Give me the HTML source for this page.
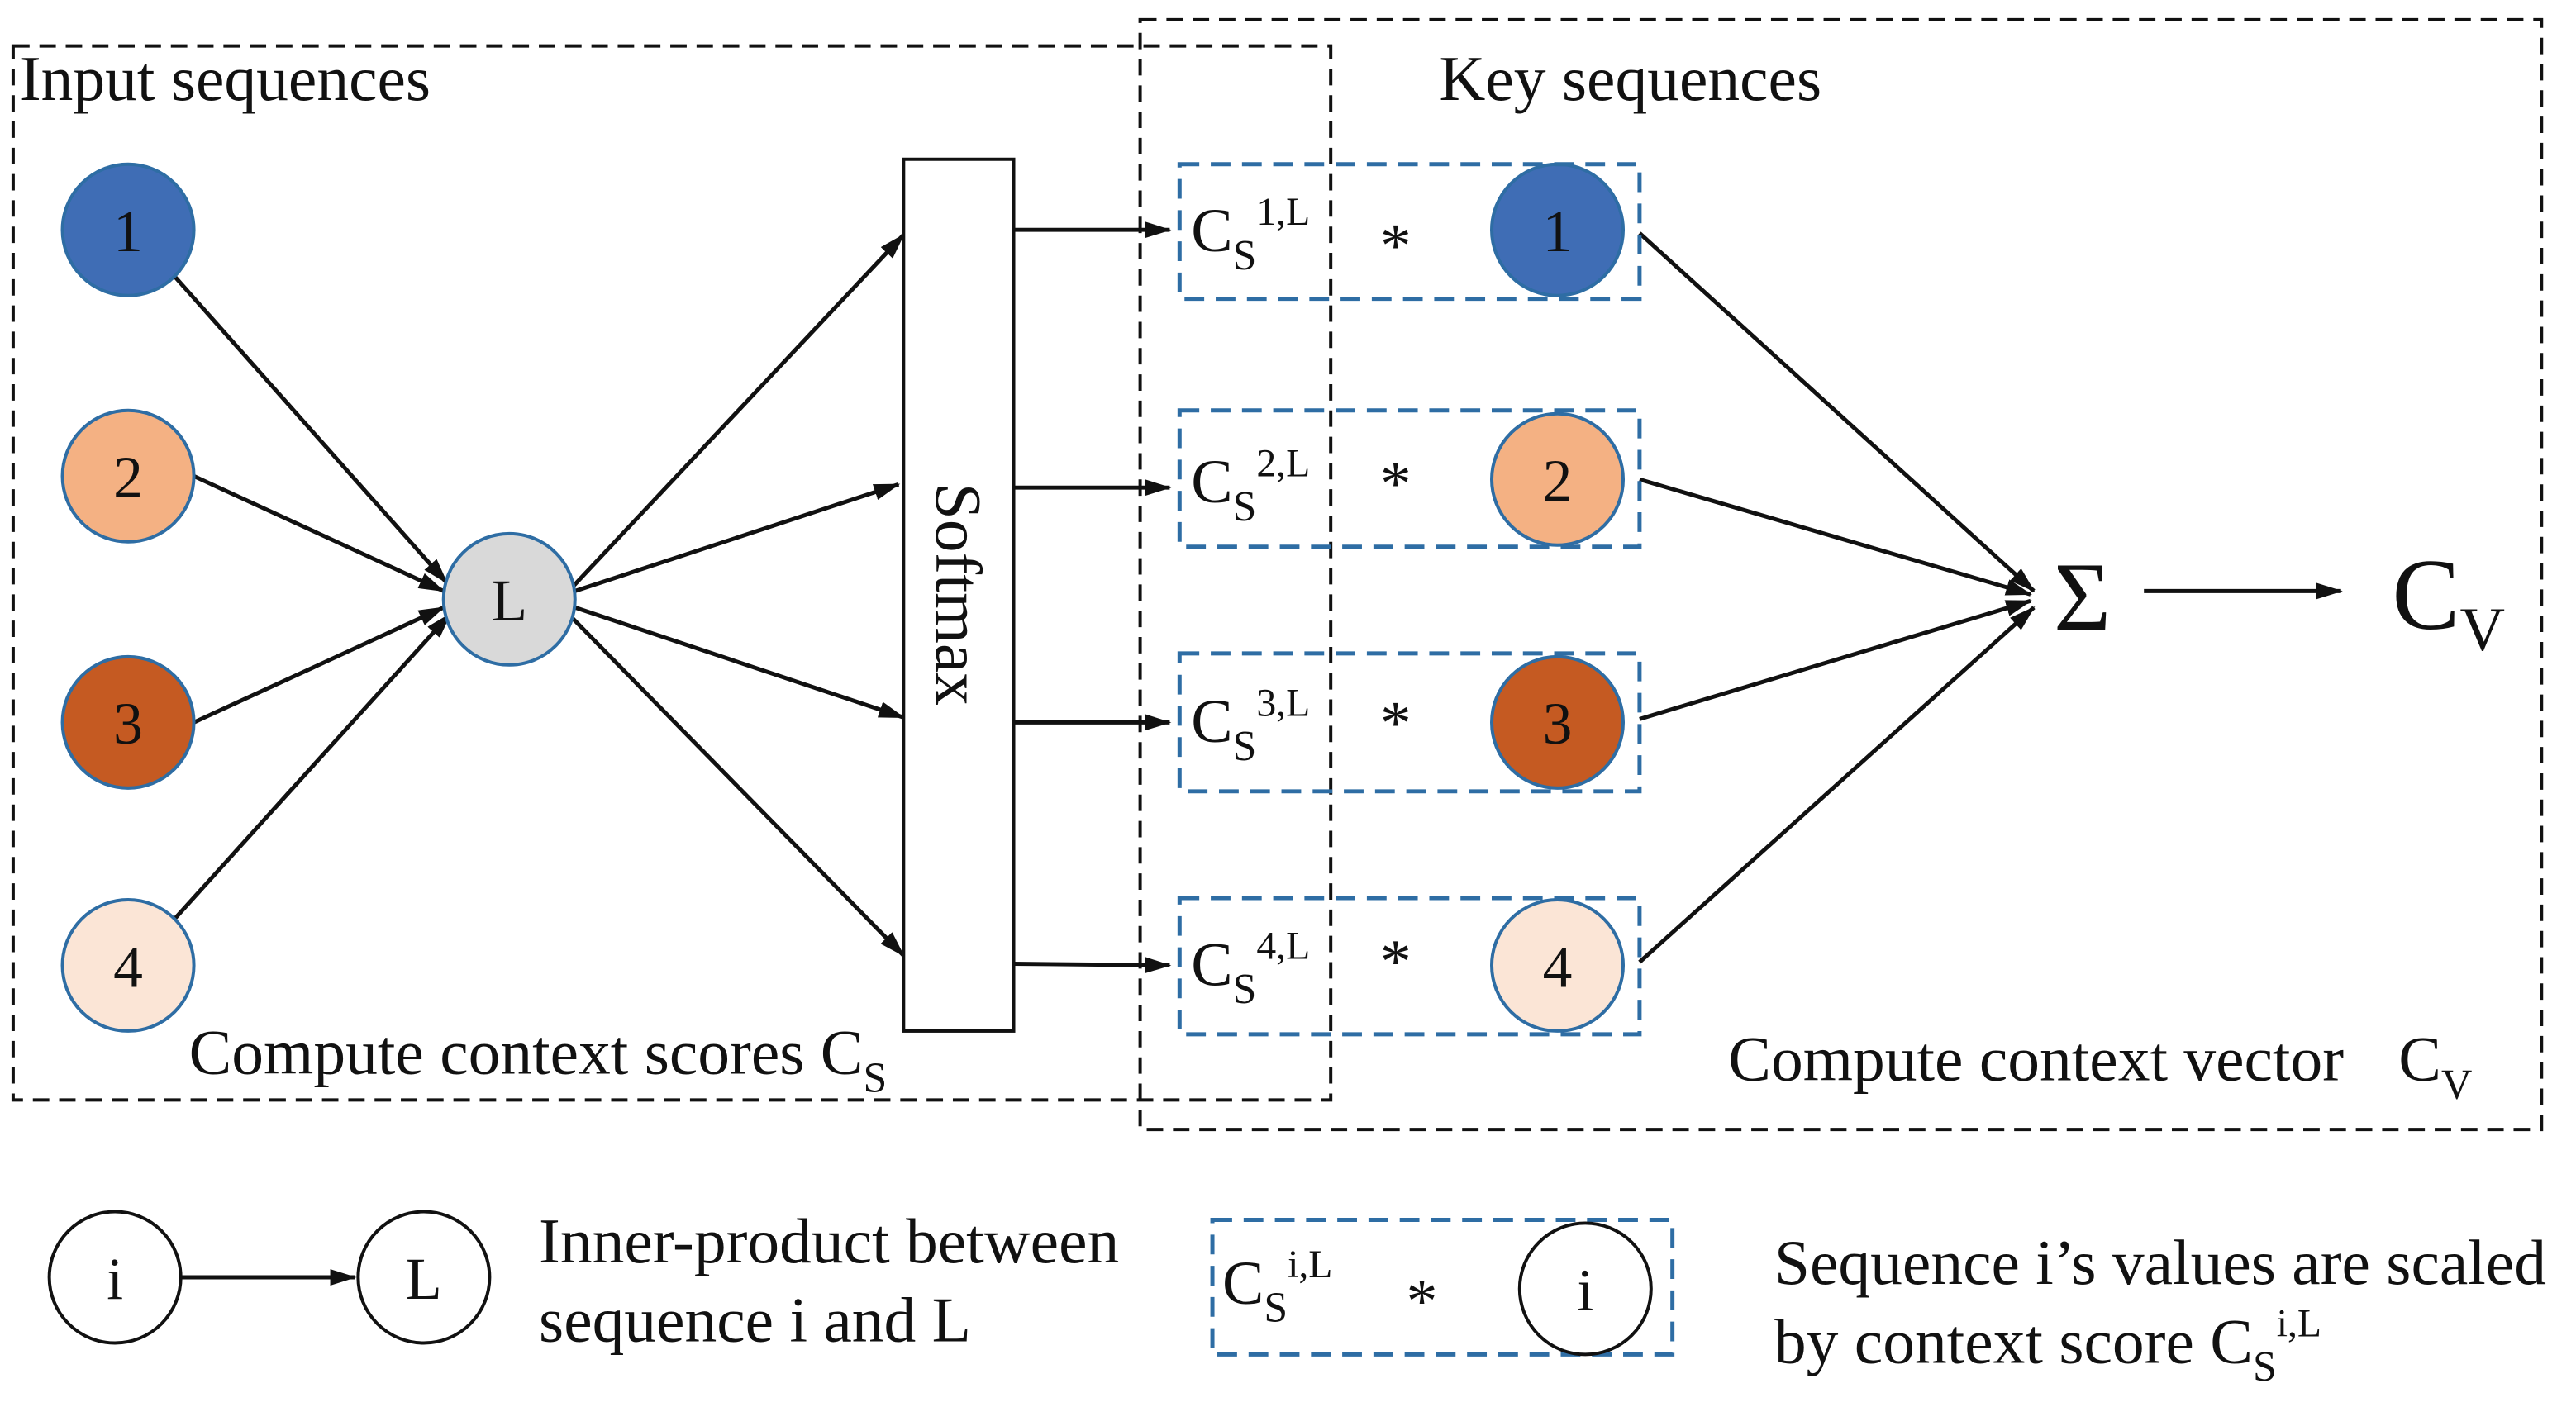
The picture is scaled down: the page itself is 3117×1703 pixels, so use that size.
<!DOCTYPE html>
<html><head><meta charset="utf-8"><style>html,body{margin:0;padding:0;background:#fff}svg{display:block}</style></head>
<body>
<svg width="3117" height="1703" viewBox="0 0 1568 857" preserveAspectRatio="none" xmlns="http://www.w3.org/2000/svg" font-family="Liberation Serif, serif" fill="#111">
<defs><marker id="a" markerWidth="16" markerHeight="12" refX="15" refY="6" orient="auto" markerUnits="userSpaceOnUse"><path d="M0,1 L16,6 L0,11 Z" fill="#111"/></marker></defs>
<rect x="8" y="28" width="802" height="642" fill="none" stroke="#111" stroke-width="2" stroke-dasharray="10,6"/>
<rect x="694" y="12" width="853" height="676" fill="none" stroke="#111" stroke-width="2" stroke-dasharray="10,6"/>
<text x="12" y="61" font-size="39">Input sequences</text>
<text x="876" y="61" font-size="39">Key sequences</text>
<g stroke="#111" stroke-width="2.5" marker-end="url(#a)">
<line x1="106" y1="168" x2="272" y2="355"/><line x1="118" y1="290" x2="270" y2="360"/><line x1="118" y1="440" x2="270" y2="370"/><line x1="106" y1="560" x2="274" y2="374"/>
<line x1="348" y1="358" x2="550" y2="143"/><line x1="350" y1="360" x2="547" y2="295"/><line x1="350" y1="370" x2="550" y2="437"/><line x1="347" y1="375" x2="550" y2="582"/>
<line x1="617" y1="140" x2="712" y2="140"/><line x1="617" y1="297" x2="712" y2="297"/><line x1="617" y1="440" x2="712" y2="440"/><line x1="617" y1="587" x2="712" y2="588"/>
<line x1="998" y1="142" x2="1238" y2="360"/><line x1="998" y1="292" x2="1236" y2="362"/><line x1="998" y1="438" x2="1236" y2="366"/><line x1="998" y1="586" x2="1238" y2="370"/>
<line x1="1305" y1="360" x2="1425" y2="360"/>
<line x1="110" y1="778" x2="216" y2="778"/>
</g>
<g stroke="#2e6da4" stroke-width="2">
<circle cx="78" cy="140" r="40" fill="#3f6db5"/><circle cx="78" cy="290" r="40" fill="#f4b183"/><circle cx="78" cy="440" r="40" fill="#c55a22"/><circle cx="78" cy="588" r="40" fill="#fbe5d6"/>
<circle cx="310" cy="365" r="40" fill="#d9d9d9"/>
<circle cx="948" cy="140" r="40" fill="#3f6db5"/><circle cx="948" cy="292" r="40" fill="#f4b183"/><circle cx="948" cy="440" r="40" fill="#c55a22"/><circle cx="948" cy="588" r="40" fill="#fbe5d6"/>
</g>
<g font-size="36" text-anchor="middle">
<text x="78" y="153">1</text><text x="78" y="303">2</text><text x="78" y="453">3</text><text x="78" y="601">4</text><text x="310" y="378">L</text>
<text x="948" y="153">1</text><text x="948" y="305">2</text><text x="948" y="453">3</text><text x="948" y="601">4</text>
</g>
<rect x="550" y="97" width="67" height="531" fill="#fff" stroke="#111" stroke-width="2"/>
<text transform="translate(570,362) rotate(90)" font-size="40" text-anchor="middle">Softmax</text>
<g fill="none" stroke="#2e6da4" stroke-width="2.5" stroke-dasharray="12,7">
<rect x="718" y="100" width="280" height="82"/><rect x="718" y="250" width="280" height="83"/><rect x="718" y="398" width="280" height="84"/><rect x="718" y="547" width="280" height="83"/>
<rect x="738" y="743" width="280" height="82"/>
</g>
<g font-size="38">
<text x="725" y="153">C<tspan font-size="26" dy="11">S</tspan><tspan font-size="24" dy="-27">1,L</tspan></text>
<text x="725" y="306">C<tspan font-size="26" dy="11">S</tspan><tspan font-size="24" dy="-27">2,L</tspan></text>
<text x="725" y="452">C<tspan font-size="26" dy="11">S</tspan><tspan font-size="24" dy="-27">3,L</tspan></text>
<text x="725" y="600">C<tspan font-size="26" dy="11">S</tspan><tspan font-size="24" dy="-27">4,L</tspan></text>
<text x="744" y="794">C<tspan font-size="26" dy="11">S</tspan><tspan font-size="24" dy="-27">i,L</tspan></text>
<text x="840" y="162">*</text><text x="840" y="307">*</text><text x="840" y="453">*</text><text x="840" y="598">*</text><text x="856" y="805">*</text>
</g>
<text x="1250" y="384" font-size="60">Σ</text>
<text x="1456" y="383" font-size="62">C<tspan font-size="38" dy="13">V</tspan></text>
<text x="115" y="654" font-size="39">Compute context scores C<tspan font-size="26" dy="11">S</tspan></text>
<text x="1052" y="658" font-size="39">Compute context vector</text>
<text x="1460" y="658" font-size="39">C<tspan font-size="26" dy="11">V</tspan></text>
<g fill="#fff" stroke="#111" stroke-width="2"><circle cx="70" cy="778" r="40"/><circle cx="258" cy="778" r="40"/><circle cx="965" cy="785" r="40"/></g>
<g font-size="36" text-anchor="middle"><text x="70" y="791">i</text><text x="258" y="791">L</text><text x="965" y="798">i</text></g>
<g font-size="39">
<text x="328" y="769">Inner-product between</text><text x="328" y="817">sequence i and L</text>
<text x="1080" y="782">Sequence i’s values are scaled</text>
<text x="1080" y="830">by context score C<tspan font-size="26" dy="11">S</tspan><tspan font-size="24" dy="-27">i,L</tspan></text>
</g>
</svg>
</body></html>
